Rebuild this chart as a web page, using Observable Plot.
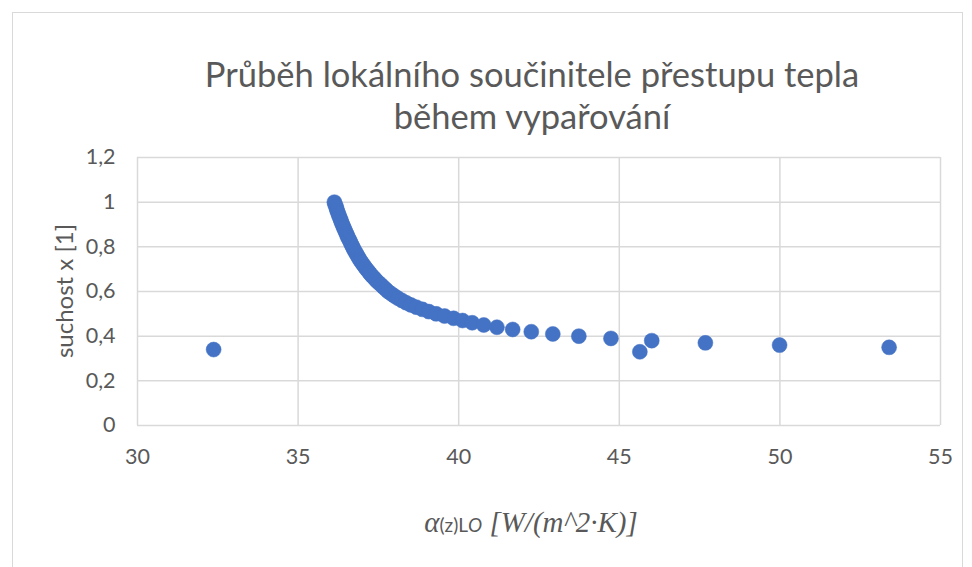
<!DOCTYPE html>
<html><head><meta charset="utf-8">
<script src="https://cdn.jsdelivr.net/npm/d3@7"></script>
<script src="https://cdn.jsdelivr.net/npm/@observablehq/plot@0.6"></script>
<style>
body{margin:0;background:#fff;}
#wrap{position:relative;width:972px;height:567px;overflow:hidden;font-family:Lato,"Open Sans",sans-serif;color:#595959;}
#frame{position:absolute;left:12px;top:12px;width:951px;height:620px;border:1px solid #d9d9d9;box-sizing:border-box;}
#title{position:absolute;left:32px;width:1000px;top:53px;text-align:center;font-size:34.5px;line-height:42px;}
#ylab{position:absolute;left:63px;top:291px;transform:translate(-50%,-50%) rotate(-90deg);font-size:24px;white-space:nowrap;}
#xlab{position:absolute;left:531px;top:522px;transform:translate(-50%,-50%);font-size:29px;white-space:nowrap;font-family:"Liberation Serif","DejaVu Serif",serif;font-style:italic;}
#xlab .sub{font-family:Lato,sans-serif;font-style:normal;font-size:19px;}
#chart{position:absolute;left:0;top:0;}
</style></head>
<body>
<div id="wrap">
<div id="frame"></div>
<div id="chart"></div>
<div id="title">Průběh lokálního součinitele přestupu tepla<br>během vypařování</div>
<div id="ylab">suchost x [1]</div>
<div id="xlab">α<span class="sub">(z)L<i>O</i></span> [W/(m^2·K)]</div>
</div>
<script>
const xTicks = [30, 35, 40, 45, 50, 55];
const yTicks = [0, 0.2, 0.4, 0.6, 0.8, 1, 1.2];
const yTickLabels = ["0", "0,2", "0,4", "0,6", "0,8", "1", "1,2"];

// suchost x [1]
const suchost = [
  1.00, 0.99, 0.98, 0.97, 0.96, 0.95, 0.94, 0.93, 0.92, 0.91,
  0.90, 0.89, 0.88, 0.87, 0.86, 0.85, 0.84, 0.83, 0.82, 0.81,
  0.80, 0.79, 0.78, 0.77, 0.76, 0.75, 0.74, 0.73, 0.72, 0.71,
  0.70, 0.69, 0.68, 0.67, 0.66, 0.65, 0.64, 0.63, 0.62, 0.61,
  0.60, 0.59, 0.58, 0.57, 0.56, 0.55, 0.54, 0.53, 0.52, 0.51,
  0.50, 0.49, 0.48, 0.47, 0.46, 0.45, 0.44, 0.43, 0.42, 0.41,
  0.40, 0.39, 0.38, 0.37, 0.36, 0.35, 0.34, 0.33
];
// alpha(z)LO [W/(m^2.K)]
const alpha = [
  36.13, 36.15, 36.18, 36.20, 36.22, 36.25, 36.27, 36.30, 36.33, 36.35,
  36.38, 36.41, 36.44, 36.47, 36.50, 36.53, 36.56, 36.60, 36.63, 36.66,
  36.70, 36.73, 36.77, 36.81, 36.85, 36.89, 36.93, 36.98, 37.03, 37.08,
  37.13, 37.19, 37.24, 37.30, 37.37, 37.43, 37.50, 37.58, 37.65, 37.73,
  37.80, 37.90, 38.00, 38.11, 38.23, 38.36, 38.51, 38.68, 38.87, 39.07,
  39.30, 39.56, 39.84, 40.12, 40.42, 40.78, 41.19, 41.68, 42.26, 42.93,
  43.74, 44.74, 46.01, 47.68, 49.99, 53.40, 32.37, 45.64
];

const data = alpha.map((a, i) => ({a, x: suchost[i]}));

const chart = Plot.plot({
  width: 972,
  height: 567,
  marginLeft: 137,
  marginRight: 32,
  marginTop: 157,
  marginBottom: 142,
  style: {fontFamily: 'Lato, "Open Sans", sans-serif', fontSize: "21.5px", color: "#595959", background: "transparent"},
  x: {domain: [30, 55], ticks: xTicks, tickSize: 0, tickPadding: 23, label: null},
  y: {domain: [0, 1.2], ticks: yTicks, tickSize: 0, tickPadding: 22, label: null,
      tickFormat: d => yTickLabels[yTicks.indexOf(d)]},
  marks: [
    Plot.gridX(xTicks, {stroke: "#d9d9d9", strokeOpacity: 1, strokeWidth: 1.5}),
    Plot.gridY(yTicks, {stroke: "#d9d9d9", strokeOpacity: 1, strokeWidth: 1.5}),
    Plot.dot(data, {x: "a", y: "x", r: 7.5, fill: "#4472C4", stroke: "#4472C4", strokeWidth: 0.5})
  ]
});
document.getElementById("chart").appendChild(chart);
</script>
</body></html>
